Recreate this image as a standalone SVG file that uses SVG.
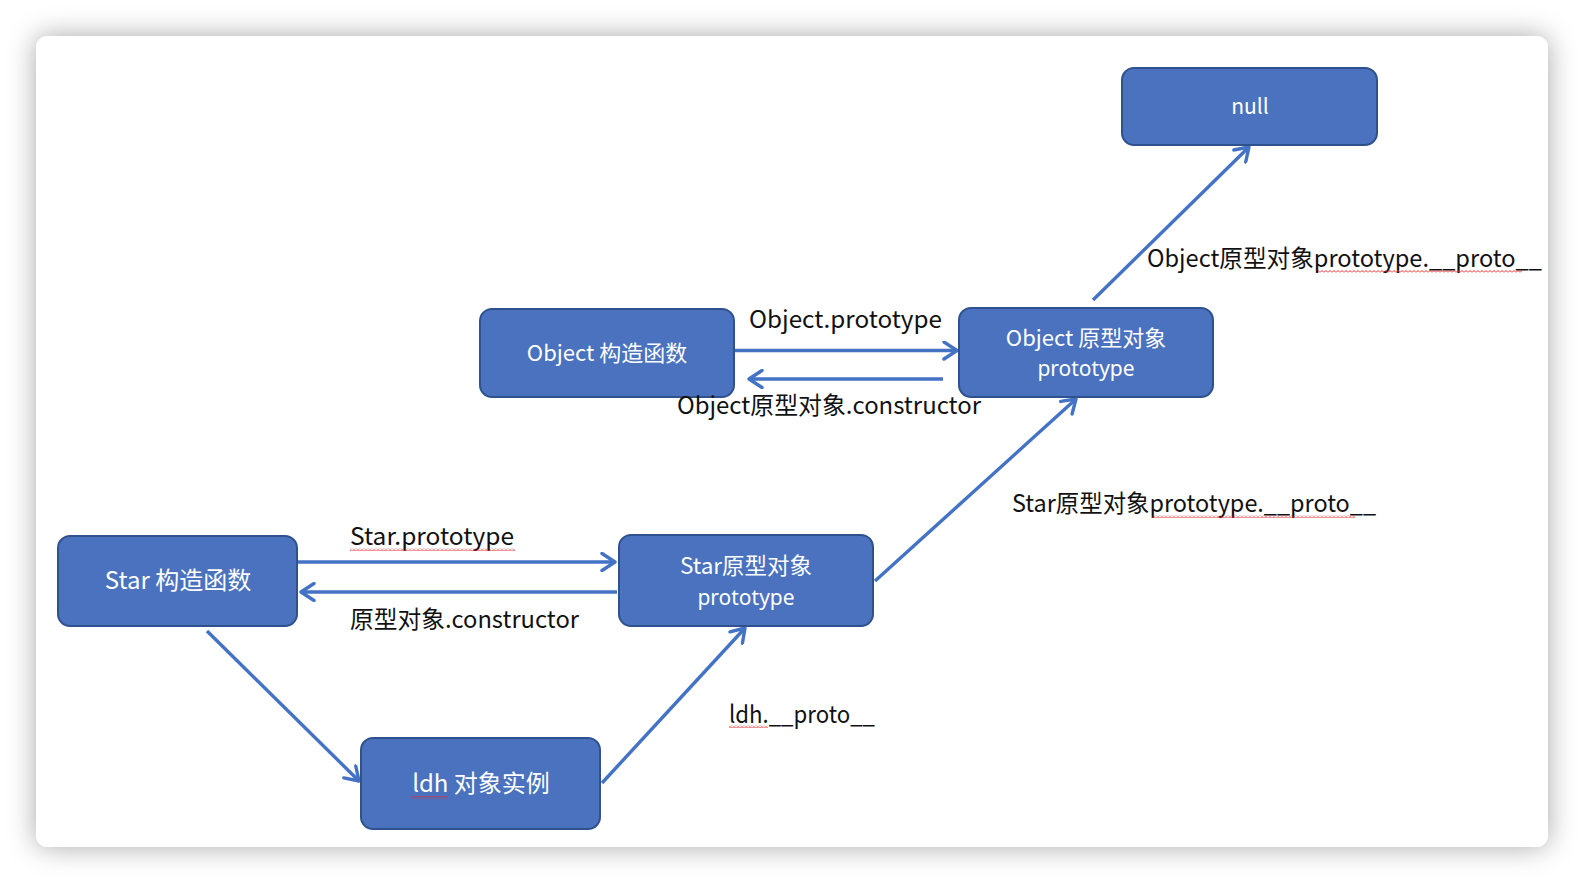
<svg xmlns="http://www.w3.org/2000/svg" width="1584" height="884" viewBox="0 0 1584 884">
  <style>
    .node rect { fill: #4A72BE; stroke: #2F528F; stroke-width: 2; }
    .nt { fill: #FFFFFF; font-family: "Noto Sans CJK SC", "Noto Sans", sans-serif; text-anchor: middle; }
    .nl { fill: #FFFFFF; font-family: "Noto Sans", "Open Sans", sans-serif; text-anchor: middle; font-size: 21px; }
    .lbl { fill: #111111; font-family: "Noto Sans CJK SC", "Noto Sans", sans-serif; font-size: 24px; }
    .edge { stroke: #4472C4; stroke-width: 3.4; fill: none; marker-end: url(#chev); }
    .wave { fill: url(#wave); }
  </style>
  <defs>
    <filter id="shadow" x="-5%" y="-8%" width="110%" height="116%">
      <feDropShadow dx="0" dy="0" stdDeviation="14" flood-color="#000000" flood-opacity="0.34"/>
    </filter>
    <marker id="chev" viewBox="0 0 20 20" refX="17" refY="10" markerWidth="20" markerHeight="20" markerUnits="userSpaceOnUse" orient="auto">
      <path d="M4,1.5 L17,10 L4,18.5" fill="none" stroke="#4472C4" stroke-width="3.4" stroke-linecap="round" stroke-linejoin="round"/>
    </marker>
    <pattern id="wave" x="0" y="0" width="4" height="3" patternUnits="userSpaceOnUse">
      <path d="M0,2.5 L2,0.5 L4,2.5" fill="none" stroke="#E8262B" stroke-width="1"/>
    </pattern>
  </defs>

  <rect x="0" y="0" width="1584" height="884" fill="#FFFFFF"/>
  <rect x="36" y="36" width="1512" height="811" rx="12" fill="#FFFFFF" filter="url(#shadow)"/>

  <g id="connectors">
    <line class="edge" x1="735" y1="350.5" x2="957" y2="350.5"/>
    <line class="edge" x1="943" y1="379" x2="749" y2="379"/>
    <line class="edge" x1="1093" y1="300" x2="1249" y2="147"/>
    <line class="edge" x1="298" y1="562" x2="615" y2="562"/>
    <line class="edge" x1="617" y1="592" x2="301" y2="592"/>
    <line class="edge" x1="207" y1="631" x2="359" y2="781"/>
    <line class="edge" x1="602" y1="783" x2="745" y2="628"/>
    <line class="edge" x1="875" y1="581" x2="1076" y2="399"/>
  </g>

  <g id="node-null" class="node">
    <rect x="1122" y="68" width="255" height="77" rx="12"/>
    <text class="nt" x="1250" y="114" font-size="21">null</text>
  </g>
  <g id="node-object-ctor" class="node">
    <rect x="480" y="309" width="254" height="88" rx="12"/>
    <text class="nt" x="607" y="361" font-size="22">Object 构造函数</text>
  </g>
  <g id="node-object-proto" class="node">
    <rect x="959" y="308" width="254" height="89" rx="12"/>
    <text class="nt" x="1086" y="346" font-size="22">Object 原型对象</text>
    <text class="nl" x="1086" y="376">prototype</text>
  </g>
  <g id="node-star-ctor" class="node">
    <rect x="58" y="536" width="239" height="90" rx="12"/>
    <text class="nt" x="178" y="589" font-size="24">Star 构造函数</text>
  </g>
  <g id="node-star-proto" class="node">
    <rect x="619" y="535" width="254" height="91" rx="12"/>
    <text class="nt" x="746" y="574" font-size="22.5">Star原型对象</text>
    <text class="nl" x="746" y="605">prototype</text>
  </g>
  <g id="node-ldh" class="node">
    <rect x="361" y="738" width="239" height="91" rx="12"/>
    <text class="nt" x="481" y="792" font-size="24">ldh 对象实例</text>
  </g>

  <g id="labels">
    <text class="lbl" x="749" y="328" textLength="193" lengthAdjust="spacingAndGlyphs">Object.prototype</text>
    <text class="lbl" x="677" y="414" textLength="304" lengthAdjust="spacingAndGlyphs">Object原型对象.constructor</text>
    <text class="lbl" x="1147" y="267" textLength="395" lengthAdjust="spacingAndGlyphs">Object原型对象prototype.__proto__</text>
    <text class="lbl" x="1012" y="512" textLength="364" lengthAdjust="spacingAndGlyphs">Star原型对象prototype.__proto__</text>
    <text class="lbl" x="350" y="545" textLength="164" lengthAdjust="spacingAndGlyphs">Star.prototype</text>
    <text class="lbl" x="350" y="628" textLength="229" lengthAdjust="spacingAndGlyphs">原型对象.constructor</text>
    <text class="lbl" x="729" y="723" textLength="146" lengthAdjust="spacingAndGlyphs">ldh.__proto__</text>
  </g>

  <g id="spellcheck">
    <rect class="wave" x="350" y="548" width="165" height="3"/>
    <rect class="wave" x="1318" y="270" width="204" height="3"/>
    <rect class="wave" x="1152" y="515" width="203" height="3"/>
    <rect class="wave" x="729" y="725" width="39" height="3"/>
    <rect class="wave" x="411" y="796" width="37" height="3"/>
  </g>
</svg>
